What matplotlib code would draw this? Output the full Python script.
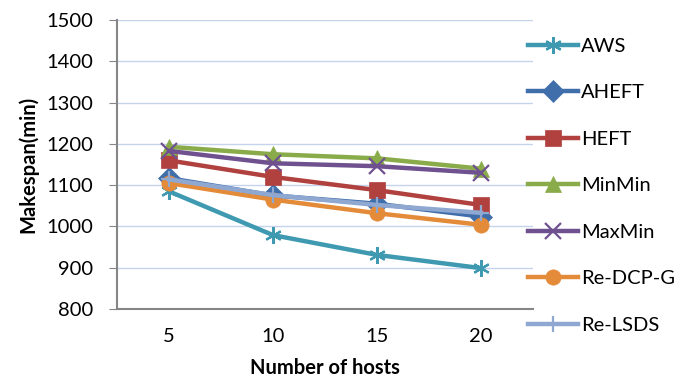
import matplotlib.pyplot as plt

plt.rcParams['font.family'] = ['Lato', 'DejaVu Sans']

hosts = ['5', '10', '15', '20']
aws = [1085, 979, 931, 899]
aheft = [1117, 1075, 1055, 1024]
heft = [1160, 1120, 1088, 1052]
minmin = [1193, 1175, 1165, 1140]
maxmin = [1183, 1153, 1146, 1130]
re_dcp_g = [1105, 1065, 1032, 1004]
re_lsds = [1114, 1076, 1052, 1033]

series = [
    ('AWS', aws, '#3F9AB1', (6, 2, 0)),
    ('AHEFT', aheft, '#3F6EAA', 'D'),
    ('HEFT', heft, '#B0413E', 's'),
    ('MinMin', minmin, '#8AAB4A', '^'),
    ('MaxMin', maxmin, '#6F5190', 'x'),
    ('Re-DCP-G', re_dcp_g, '#E48B3A', 'o'),
    ('Re-LSDS', re_lsds, '#8EA8D2', '+'),
]

fig = plt.figure(figsize=(6.92, 3.8), dpi=100)
ax = fig.add_axes([0.169, 0.187, 0.601, 0.760])

x = range(len(hosts))
for name, vals, col, mk in series:
    hollow = mk in ('x', '+') or isinstance(mk, tuple)
    ax.plot(x, vals, color=col, linewidth=3.2, marker=mk,
            markersize=12 if hollow else 11,
            markeredgewidth=1.6 if hollow else 0.5,
            markeredgecolor=col, label=name)

ax.set_xlim(-0.5, 3.5)
ax.set_ylim(800, 1500)
ax.set_yticks(range(800, 1501, 100))
ax.set_xticks(list(x))
ax.set_xticklabels(hosts)
ax.yaxis.grid(True, color='#C5D4EC', linewidth=1)
ax.set_axisbelow(True)

for s in ['top', 'right']:
    ax.spines[s].set_visible(False)
for s in ['left', 'bottom']:
    ax.spines[s].set_color('#868686')
    ax.spines[s].set_linewidth(1.5)
ax.tick_params(axis='y', length=6, color='#868686', labelsize=14.5, pad=11)
ax.tick_params(axis='x', length=0, labelsize=14.5, pad=14)

ax.set_xlabel('Number of hosts', fontsize=14.5, fontweight='bold', labelpad=9)
ax.set_ylabel('Makespan(min)', fontsize=14.5, fontweight='bold', labelpad=6)

ax.legend(loc='upper left', bbox_to_anchor=(0.988, 0.94), frameon=False,
          fontsize=14.5, handlelength=2.5, labelspacing=1.46,
          handletextpad=0.15, borderaxespad=0, borderpad=0)

fig.savefig('out.png', dpi=100)
